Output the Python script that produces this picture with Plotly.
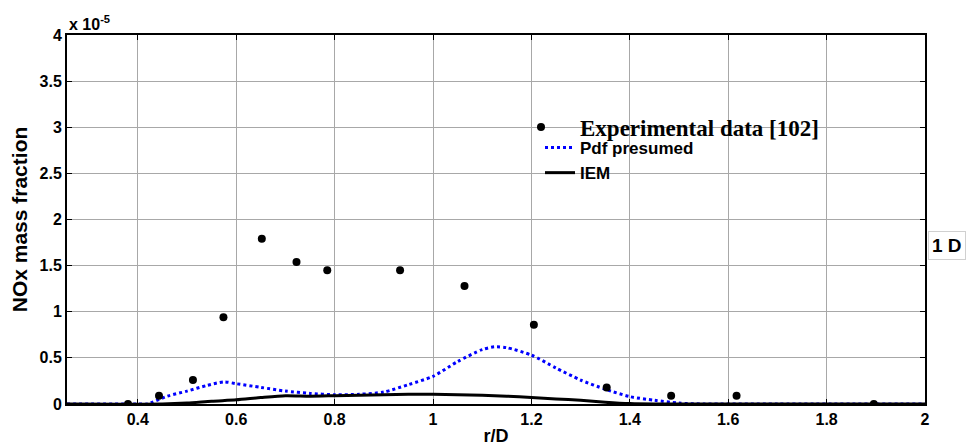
import plotly.graph_objects as go

# Experimental NOx mass fraction (units of 1e-5) vs radial position r/D
exp_r = [0.38, 0.443, 0.512, 0.574, 0.652, 0.7225, 0.785, 0.933, 1.064, 1.205, 1.353, 1.484, 1.617, 1.896]
exp_nox = [0.0, 0.09, 0.26, 0.94, 1.79, 1.54, 1.45, 1.45, 1.28, 0.86, 0.18, 0.09, 0.09, 0.0]

# Presumed-PDF model prediction
pdf_r = [0.256, 0.40, 0.42, 0.43, 0.46, 0.50, 0.54, 0.575, 0.60, 0.65, 0.70, 0.75, 0.80, 0.85,
         0.90, 0.95, 1.00, 1.05, 1.10, 1.125, 1.15, 1.20, 1.25, 1.30, 1.35, 1.40, 1.45, 1.50,
         1.55, 1.70, 2.0]
pdf_nox = [0.0, 0.0, 0.0, 0.02, 0.085, 0.14, 0.20, 0.24, 0.22, 0.18, 0.14, 0.115, 0.10, 0.105,
           0.13, 0.21, 0.30, 0.46, 0.59, 0.62, 0.61, 0.53, 0.39, 0.26, 0.16, 0.08, 0.04, 0.01,
           0.0, 0.0, 0.0]

# IEM mixing model prediction
iem_r = [0.256, 0.45, 0.50, 0.55, 0.60, 0.65, 0.70, 0.75, 0.80, 0.85, 0.90, 0.95, 1.00, 1.05,
         1.10, 1.15, 1.20, 1.25, 1.30, 1.35, 1.40, 1.45, 1.60, 2.0]
iem_nox = [0.0, 0.0, 0.01, 0.03, 0.045, 0.07, 0.09, 0.085, 0.09, 0.095, 0.10, 0.105, 0.105, 0.10,
           0.095, 0.085, 0.07, 0.055, 0.04, 0.02, 0.005, 0.0, 0.0, 0.0]

x_ticks = [0.4, 0.6, 0.8, 1.0, 1.2, 1.4, 1.6, 1.8, 2.0]
x_labels = ["0.4", "0.6", "0.8", "1", "1.2", "1.4", "1.6", "1.8", "2"]
y_ticks = [0, 0.5, 1, 1.5, 2, 2.5, 3, 3.5, 4]
y_labels = ["0", "0.5", "1", "1.5", "2", "2.5", "3", "3.5", "4"]

SANS = "Liberation Sans, Arial, sans-serif"
SERIF = "Liberation Serif, Times New Roman, serif"

fig = go.Figure()

fig.add_trace(go.Scatter(
    x=pdf_r, y=pdf_nox, mode="lines", name="Pdf presumed",
    line=dict(color="#0000ff", width=3, dash="dot", shape="spline", smoothing=0.7),
    legend="legend2",
))
fig.add_trace(go.Scatter(
    x=iem_r, y=iem_nox, mode="lines", name="IEM",
    line=dict(color="black", width=3, shape="spline", smoothing=0.7),
    legend="legend2",
))
fig.add_trace(go.Scatter(
    x=exp_r, y=exp_nox, mode="markers", name="Experimental data [102]",
    marker=dict(color="black", size=8, symbol="circle"),
    legend="legend",
))

axis_common = dict(
    showline=True, linecolor="black", linewidth=2, mirror="allticks",
    ticks="inside", ticklen=5, tickwidth=1, tickcolor="black",
    showgrid=True, gridcolor="#a8a8a8", gridwidth=1, zeroline=False,
    automargin=False,
    tickfont=dict(family=SANS, size=16, color="black", weight=700),
)

fig.update_xaxes(
    range=[0.256, 2.0], tickvals=x_ticks, ticktext=[f"<b>{t}</b>" for t in x_labels],
    title=dict(text="<b>r/D</b>", font=dict(family=SANS, size=18, color="black"), standoff=2),
    **axis_common,
)
fig.update_yaxes(
    range=[0, 4], tickvals=y_ticks, ticktext=[f"<b>{t}</b>" for t in y_labels],
    title=dict(text="<b>NOx mass fraction</b>", font=dict(family=SANS, size=21, color="black"), standoff=6),
    **axis_common,
)

# white panels behind the legends hide the grid lines there
fig.add_shape(type="rect", xref="paper", yref="paper", layer="between",
              x0=(515 - 67) / 858, x1=(905 - 67) / 858, y0=(404 - 146) / 369, y1=(404 - 97) / 369,
              fillcolor="white", line=dict(width=0))
fig.add_shape(type="rect", xref="paper", yref="paper", layer="between",
              x0=(533 - 67) / 858, x1=(702 - 67) / 858, y0=(404 - 190) / 369, y1=(404 - 146) / 369,
              fillcolor="white", line=dict(width=0))

fig.update_layout(
    width=969, height=447,
    margin=dict(l=67, r=44, t=35, b=43),
    paper_bgcolor="white", plot_bgcolor="white",
    showlegend=True,
    legend=dict(
        x=(502 - 67) / 858, y=(404 - 127) / 369, xanchor="left", yanchor="middle",
        bgcolor="rgba(0,0,0,0)", borderwidth=0, itemwidth=68,
        font=dict(family=SERIF, size=23, color="black", weight="bold"),
    ),
    legend2=dict(
        x=(540 - 67) / 858, y=(404 - 160.5) / 369, xanchor="left", yanchor="middle",
        bgcolor="rgba(0,0,0,0)", borderwidth=0, tracegroupgap=0,
        font=dict(family=SANS, size=17, color="black", weight="bold"),
    ),
    annotations=[
        dict(text="<b>x 10<sup>-5</sup></b>", xref="paper", yref="paper", x=0, y=1,
             xanchor="left", yanchor="bottom", showarrow=False, yshift=0,
             font=dict(family=SANS, size=16, color="black")),
        dict(text="<b>1 D</b>", xref="paper", yref="paper", x=(928 - 67) / 858, y=(404 - 245) / 369,
             xanchor="left", yanchor="middle", showarrow=False,
             bgcolor="white", bordercolor="#d0d0d0", borderwidth=1, borderpad=3,
             font=dict(family=SANS, size=19, color="black")),
    ],
)

fig.write_html("out.html")
